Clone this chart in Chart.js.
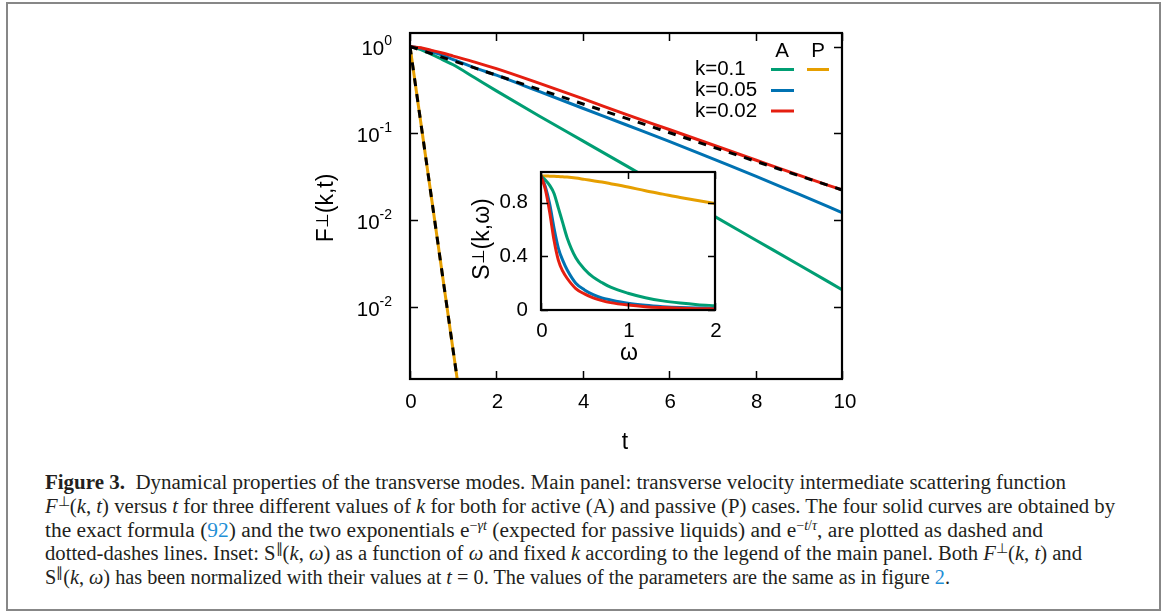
<!DOCTYPE html>
<html>
<head>
<meta charset="utf-8">
<script src="https://cdn.jsdelivr.net/npm/chart.js@4.4.1/dist/chart.umd.min.js"></script>
<style>
  html, body { margin:0; padding:0; background:#fff; }
  #page { position:relative; width:1165px; height:612px; overflow:hidden; background:#fff; }
  #frame { position:absolute; left:6px; top:2px; width:1155px; height:609px; box-sizing:border-box; border:2px solid #878787; }
  #mainChart { position:absolute; left:0; top:0; }
  #insetChart { position:absolute; left:440px; top:150px; }
  .cap { position:absolute; left:45px; white-space:nowrap; font-family:"Liberation Serif", serif; font-size:20.5px; line-height:24px; color:#231f20; transform-origin:0 50%; }
  .cap sup { font-size:66%; line-height:0; vertical-align:0.5em; }
  .cap a { color:#1f8fd6; text-decoration:none; }
</style>
</head>
<body>
<div id="page">
  <div id="frame"></div>
  <canvas id="mainChart" width="1165" height="460"></canvas>
  <canvas id="insetChart" width="300" height="230"></canvas>

  <div class="cap" data-right="1066" style="top:470px"><b>Figure 3.</b>&nbsp;&nbsp;Dynamical properties of the transverse modes. Main panel: transverse velocity intermediate scattering function</div>
  <div class="cap" data-right="1115" style="top:494px"><i>F</i><sup>⊥</sup>(<i>k</i>, <i>t</i>) versus <i>t</i> for three different values of <i>k</i> for both for active (A) and passive (P) cases. The four solid curves are obtained by</div>
  <div class="cap" data-right="1043" style="top:518px">the exact formula (<a>92</a>) and the two exponentials e<sup>−<i>γt</i></sup> (expected for passive liquids) and e<sup>−<i>t</i>/<i>τ</i></sup>, are plotted as dashed and</div>
  <div class="cap" data-right="1082" style="top:541px">dotted-dashes lines. Inset: S<sup>∥</sup>(<i>k</i>, <i>ω</i>) as a function of <i>ω</i> and fixed <i>k</i> according to the legend of the main panel. Both <i>F</i><sup>⊥</sup>(<i>k</i>, <i>t</i>) and</div>
  <div class="cap" data-right="950" style="top:565px">S<sup>∥</sup>(<i>k</i>, <i>ω</i>) has been normalized with their values at <i>t</i> = 0. The values of the parameters are the same as in figure <a>2</a>.</div>
</div>

<script>
/* ---- Main panel data: F(k,t) vs t ---- */
const tMain = [0, 0.25, 0.5, 0.75, 1, 1.5, 2, 3, 4, 5, 6, 7, 8, 9, 10];
const fActive01  = [1, 0.923, 0.813, 0.708, 0.617, 0.437, 0.309, 0.158, 0.0822, 0.0427, 0.0221, 0.0115, 0.00596, 0.00309, 0.0016];
const fActive005 = [1, 0.955, 0.871, 0.794, 0.708, 0.569, 0.468, 0.302, 0.195, 0.126, 0.0813, 0.0513, 0.0324, 0.0200, 0.0123];
const fActive002 = [1, 0.966, 0.902, 0.841, 0.776, 0.661, 0.556, 0.376, 0.251, 0.166, 0.111, 0.0741, 0.0495, 0.0331, 0.0224];
const tPassive = [0, 1.2];
const fPassive01 = [1, 0.000063];
const fExpGamma  = [1, 0.000063];
const tTau = [0, 10];
const fExpTau = [1, 0.0224];

const mainXTicks = [0, 2, 4, 6, 8, 10];
const mainYTicks = [1, 0.1, 0.01, 0.001];
const mainYTickExp = ["0", "-1", "-2", "-2"];

/* ---- Inset data: S(k,omega) ---- */
const omega = [0, 0.05, 0.1, 0.15, 0.2, 0.25, 0.3, 0.4, 0.5, 0.6, 0.7, 0.8, 1.0, 1.2, 1.4, 1.6, 1.8, 2.0];
const sActive01  = [1.0, 0.97, 0.93, 0.87, 0.76, 0.65, 0.54, 0.39, 0.305, 0.245, 0.205, 0.17, 0.125, 0.092, 0.068, 0.052, 0.04, 0.032];
const sActive005 = [1.0, 0.92, 0.79, 0.61, 0.46, 0.37, 0.30, 0.20, 0.15, 0.115, 0.09, 0.075, 0.05, 0.035, 0.025, 0.018, 0.014, 0.012];
const sActive002 = [1.0, 0.90, 0.73, 0.52, 0.37, 0.29, 0.237, 0.16, 0.12, 0.09, 0.07, 0.055, 0.037, 0.025, 0.018, 0.013, 0.01, 0.008];
const sPassive01 = [1.0, 1.0, 0.999, 0.998, 0.996, 0.994, 0.992, 0.985, 0.975, 0.965, 0.955, 0.943, 0.918, 0.89, 0.865, 0.84, 0.818, 0.795];

const insetXTicks = [0, 1, 2];
const insetYTicks = [0, 0.4, 0.8];
const insetYTickLabels = ["0", "0.4", "0.8"];

const legendRows = ["k=0.1", "k=0.05", "k=0.02"];

(() => {
  const GREEN = "#009e73", BLUE = "#0072b2", RED = "#e51e10", ORANGE = "#e69f00";
  const FONT = '"Liberation Sans", Arial, sans-serif';
  const FS = 20.5, FSUP = 14, FTITLE = 23;
  const LW = 3;

  const pts = (xs, ys) => xs.map((x, i) => ({ x, y: ys[i] }));

  function solid(data, color, order){
    return { data, borderColor: color, borderWidth: LW, pointRadius: 0, fill: false,
             cubicInterpolationMode: "monotone", order };
  }
  function dashed(data, order){
    return { data, borderColor: "#000", borderWidth: LW, borderDash: [8, 8], pointRadius: 0,
             fill: false, order };
  }

  function font(px){ return px + "px " + FONT; }

  // text with a raised smaller part, optionally rotated
  function drawParts(ctx, parts, cx, cy, rot){
    ctx.save();
    ctx.translate(cx, cy);
    if(rot) ctx.rotate(rot);
    let w = 0;
    parts.forEach(p => { ctx.font = font(p.size); p.w = ctx.measureText(p.text).width; w += p.w; });
    let x = -w / 2;
    ctx.textBaseline = "middle";
    ctx.textAlign = "left";
    ctx.fillStyle = "#000";
    parts.forEach(p => {
      ctx.font = font(p.size);
      ctx.fillText(p.text, x, p.dy || 0);
      x += p.w;
    });
    ctx.restore();
  }

  function frameAndTicks(ctx, area, xs, ys, xScale, yScale, tick){
    ctx.save();
    ctx.strokeStyle = "#000";
    ctx.lineWidth = 1.5;
    ctx.beginPath();
    xs.forEach(v => {
      const px = Math.round(xScale.getPixelForValue(v)) + 0.5;
      ctx.moveTo(px, area.bottom); ctx.lineTo(px, area.bottom - tick);
      ctx.moveTo(px, area.top); ctx.lineTo(px, area.top + tick);
    });
    ys.forEach(v => {
      const py = Math.round(yScale.getPixelForValue(v)) + 0.5;
      ctx.moveTo(area.left, py); ctx.lineTo(area.left + tick, py);
      ctx.moveTo(area.right, py); ctx.lineTo(area.right - tick, py);
    });
    ctx.stroke();
    ctx.lineWidth = 2.2;
    ctx.strokeRect(area.left, area.top, area.right - area.left, area.bottom - area.top);
    ctx.restore();
  }

  /* ---- Main panel decorations ---- */
  const mainDeco = {
    id: "mainDeco",
    afterDraw(chart){
      const { ctx, chartArea: a, scales } = chart;
      const xs = scales.x, ys = scales.y;
      frameAndTicks(ctx, a, mainXTicks, mainYTicks, xs, ys, 8);

      ctx.save();
      ctx.fillStyle = "#000";
      ctx.font = font(FS);
      ctx.textAlign = "center";
      ctx.textBaseline = "middle";
      mainXTicks.forEach(v => ctx.fillText(String(v), xs.getPixelForValue(v) + (v === 10 ? 3 : 1), 402));
      ctx.font = font(FTITLE);
      ctx.fillText("t", 625, 443);

      mainYTicks.forEach((v, i) => {
        const py = ys.getPixelForValue(v);
        ctx.font = font(FSUP);
        const supW = ctx.measureText(mainYTickExp[i]).width;
        ctx.font = font(FS);
        const baseW = ctx.measureText("10").width;
        ctx.textAlign = "left";
        ctx.fillText("10", 392 - supW - baseW, py + 3);
        ctx.font = font(FSUP);
        ctx.fillText(mainYTickExp[i], 392 - supW, py - 5);
      });

      // legend
      ctx.font = font(FS);
      ctx.textAlign = "center";
      ctx.fillText("A", 782, 51);
      ctx.fillText("P", 818, 51);
      const rowY = [69.5, 90.5, 111];
      const rowCol = [GREEN, BLUE, RED];
      legendRows.forEach((lab, i) => {
        ctx.textAlign = "left";
        ctx.fillStyle = "#000";
        ctx.fillText(lab, 695, rowY[i]);
        ctx.strokeStyle = rowCol[i];
        ctx.lineWidth = LW;
        ctx.beginPath(); ctx.moveTo(771, rowY[i]); ctx.lineTo(794, rowY[i]); ctx.stroke();
      });
      ctx.strokeStyle = ORANGE;
      ctx.beginPath(); ctx.moveTo(807, rowY[0]); ctx.lineTo(829, rowY[0]); ctx.stroke();
      ctx.restore();

      drawParts(ctx, [
        { text: "F", size: FTITLE },
        { text: "⊥", size: 17, dy: -4 },
        { text: "(k,t)", size: FTITLE }
      ], 327, 208, -Math.PI / 2);
    }
  };

  /* ---- Inset decorations ---- */
  const insetDeco = {
    id: "insetDeco",
    beforeDatasetsDraw(chart){
      const { ctx, chartArea: a } = chart;
      ctx.save();
      ctx.fillStyle = "#fff";
      ctx.fillRect(a.left, a.top, a.right - a.left, a.bottom - a.top);
      ctx.restore();
    },
    afterDraw(chart){
      const { ctx, chartArea: a, scales } = chart;
      const xs = scales.x, ys = scales.y;
      frameAndTicks(ctx, a, insetXTicks, insetYTicks, xs, ys, 7);
      ctx.save();
      ctx.fillStyle = "#000";
      ctx.font = font(FS);
      ctx.textBaseline = "middle";
      ctx.textAlign = "right";
      insetYTicks.forEach((v, i) => ctx.fillText(insetYTickLabels[i], 88, ys.getPixelForValue(v)));
      ctx.textAlign = "center";
      insetXTicks.forEach(v => ctx.fillText(String(v), xs.getPixelForValue(v) + 1, 181));
      ctx.font = font(FTITLE);
      ctx.fillText("ω", 189, 204);
      ctx.restore();
      drawParts(ctx, [
        { text: "S", size: FTITLE },
        { text: "⊥", size: 17, dy: -4 },
        { text: "(k,ω)", size: FTITLE }
      ], 43, 89, -Math.PI / 2);
    }
  };

  function renderCharts(){
    const mainCanvas = document.getElementById("mainChart");
    const insetCanvas = document.getElementById("insetChart");

    new Chart(mainCanvas, {
      type: "line",
      data: { datasets: [
        dashed(pts(tTau, fExpTau), 0),
        dashed(pts(tPassive, fExpGamma), 1),
        solid(pts(tMain, fActive002), RED, 2),
        solid(pts(tMain, fActive005), BLUE, 3),
        solid(pts(tMain, fActive01), GREEN, 4),
        solid(pts(tPassive, fPassive01), ORANGE, 5)
      ]},
      options: {
        responsive: false,
        animation: false,
        layout: { padding: { left: 410, right: 323, top: 33, bottom: 81 } },
        plugins: { legend: { display: false }, tooltip: { enabled: false } },
        scales: {
          x: { type: "linear", min: 0, max: 10, display: false },
          y: { type: "logarithmic", min: 0.00015, max: 1.43, display: false }
        }
      },
      plugins: [mainDeco]
    });

    new Chart(insetCanvas, {
      type: "line",
      data: { datasets: [
        solid(pts(omega, sActive002), RED, 0),
        solid(pts(omega, sActive005), BLUE, 1),
        solid(pts(omega, sActive01), GREEN, 2),
        solid(pts(omega, sPassive01), ORANGE, 3)
      ]},
      options: {
        responsive: false,
        animation: false,
        layout: { padding: { left: 101, right: 25, top: 22, bottom: 70 } },
        plugins: { legend: { display: false }, tooltip: { enabled: false } },
        scales: {
          x: { type: "linear", min: 0, max: 2, display: false },
          y: { type: "linear", min: 0, max: 1.03, display: false }
        }
      },
      plugins: [insetDeco]
    });
  }

  /* ---- Caption: stretch each line to its measured width ---- */
  function fitCaption(){
    document.querySelectorAll(".cap").forEach(el => {
      const target = Number(el.dataset.right) - 45;
      const w = el.getBoundingClientRect().width;
      if(w > 0) el.style.transform = "scaleX(" + (target / w).toFixed(4) + ")";
    });
  }

  document.addEventListener("DOMContentLoaded", () => {
    renderCharts();
    fitCaption();
  });
})();
</script>
</body>
</html>
